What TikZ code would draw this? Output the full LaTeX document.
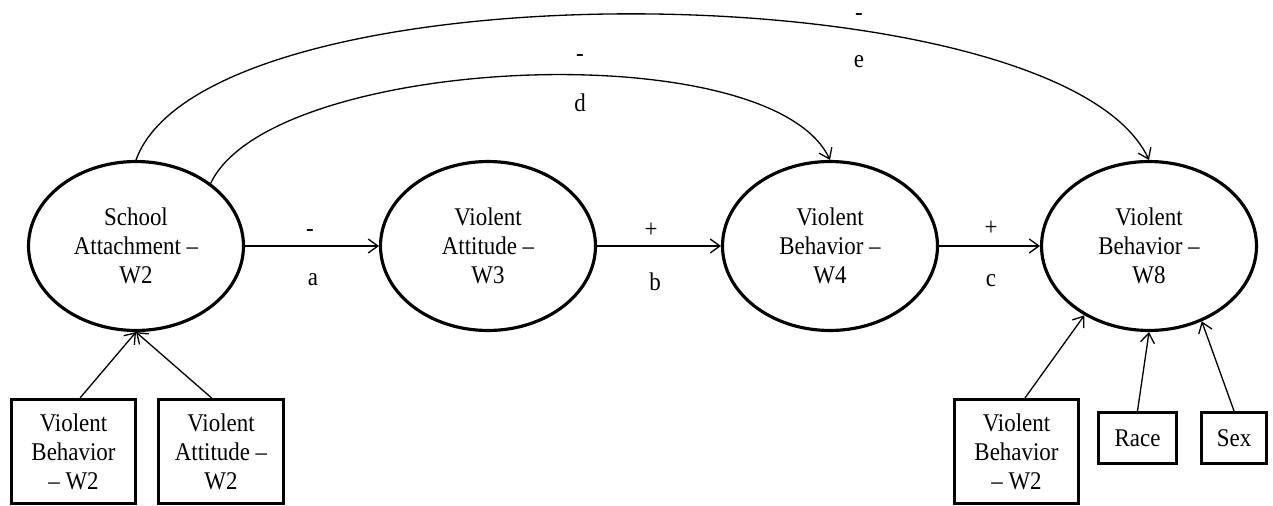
\documentclass[tikz,border=0pt]{standalone}
\usepackage{fontspec}
\setmainfont{Liberation Serif}[FakeStretch=0.9]
\usetikzlibrary{arrows.meta,shapes.geometric,positioning}

\begin{document}
\begin{tikzpicture}[x=0.02cm,y=-0.02cm,
    txt/.style={font=\fontsize{14.5}{16.5}\selectfont},
    latent/.style={ellipse,draw,line width=1.8pt,minimum width=4.3cm,
      minimum height=3.38cm,inner sep=0pt,align=center,txt},
    obsbox/.style={rectangle,draw,line width=1.8pt,inner sep=0pt,
      align=center,txt},
    link/.style={-{Straight Barb[length=5.5pt,width=8pt]},line width=0.75pt}]
        \useasboundingbox (0,0) rectangle (1273,506);
        % latent constructs
        \node[latent] (schAtt2) at (136,246) {School\\Attachment --\\W2};
        \node[latent] (vAtt3) at (488,246) {Violent\\Attitude --\\W3};
        \node[latent] (vBeh4) at (830,246) {Violent\\Behavior --\\W4};
        \node[latent] (vBeh8) at (1149,246) {Violent\\Behavior --\\W8};
        % controls
        \node[obsbox,minimum width=2.48cm,minimum height=2.08cm]
          (vBeh2a) at (73.5,451.5) {Violent\\Behavior\\-- W2};
        \node[obsbox,minimum width=2.5cm,minimum height=2.08cm]
          (vAtt2) at (221,451.5) {Violent\\Attitude --\\W2};
        \node[obsbox,minimum width=2.48cm,minimum height=2.08cm]
          (vBeh2b) at (1016.5,451.5) {Violent\\Behavior\\-- W2};
        \node[obsbox,minimum width=1.56cm,minimum height=1.02cm]
          (race) at (1137.5,438) {Race};
        \node[obsbox,minimum width=1.3cm,minimum height=1.02cm]
          (sex) at (1234,438) {Sex};
        % main paths
        \draw[link] (schAtt2) -- (vAtt3);
        \draw[link] (vAtt3) -- (vBeh4);
        \draw[link] (vBeh4) -- (vBeh8);
        \node[txt] (sgnA) at (310,233) {-};
        \node[txt] (lblA) at (313,280) {a};
        \node[txt] (sgnB) at (651,230) {+};
        \node[txt] (lblB) at (655,282) {b};
        \node[txt] (sgnC) at (991,228) {+};
        \node[txt] (lblC) at (991,281) {c};
        % direct paths
        \draw[link] (schAtt2.40) .. controls +(60,-128) and +(-60,-128) .. (vBeh4.north);
        \draw[link] (schAtt2.north) .. controls +(72,-198) and +(-89,-191) .. (vBeh8.north);
        \node[txt] (sgnD) at (580,58) {-};
        \node[txt] (lblD) at (580,103) {d};
        \node[txt] (sgnE) at (859,17) {-};
        \node[txt] (lblE) at (859,62) {e};
        % covariates
        \draw[link] (vBeh2a.83) -- (schAtt2.south);
        \draw[link] (vAtt2.100) -- (schAtt2.south);
        \draw[link] (vBeh2b.81) -- (vBeh8.227);
        \draw[link] (race.north) -- (vBeh8.south);
        \draw[link] (sex.north) -- (vBeh8.-55);
      \end{tikzpicture}
\end{document}
